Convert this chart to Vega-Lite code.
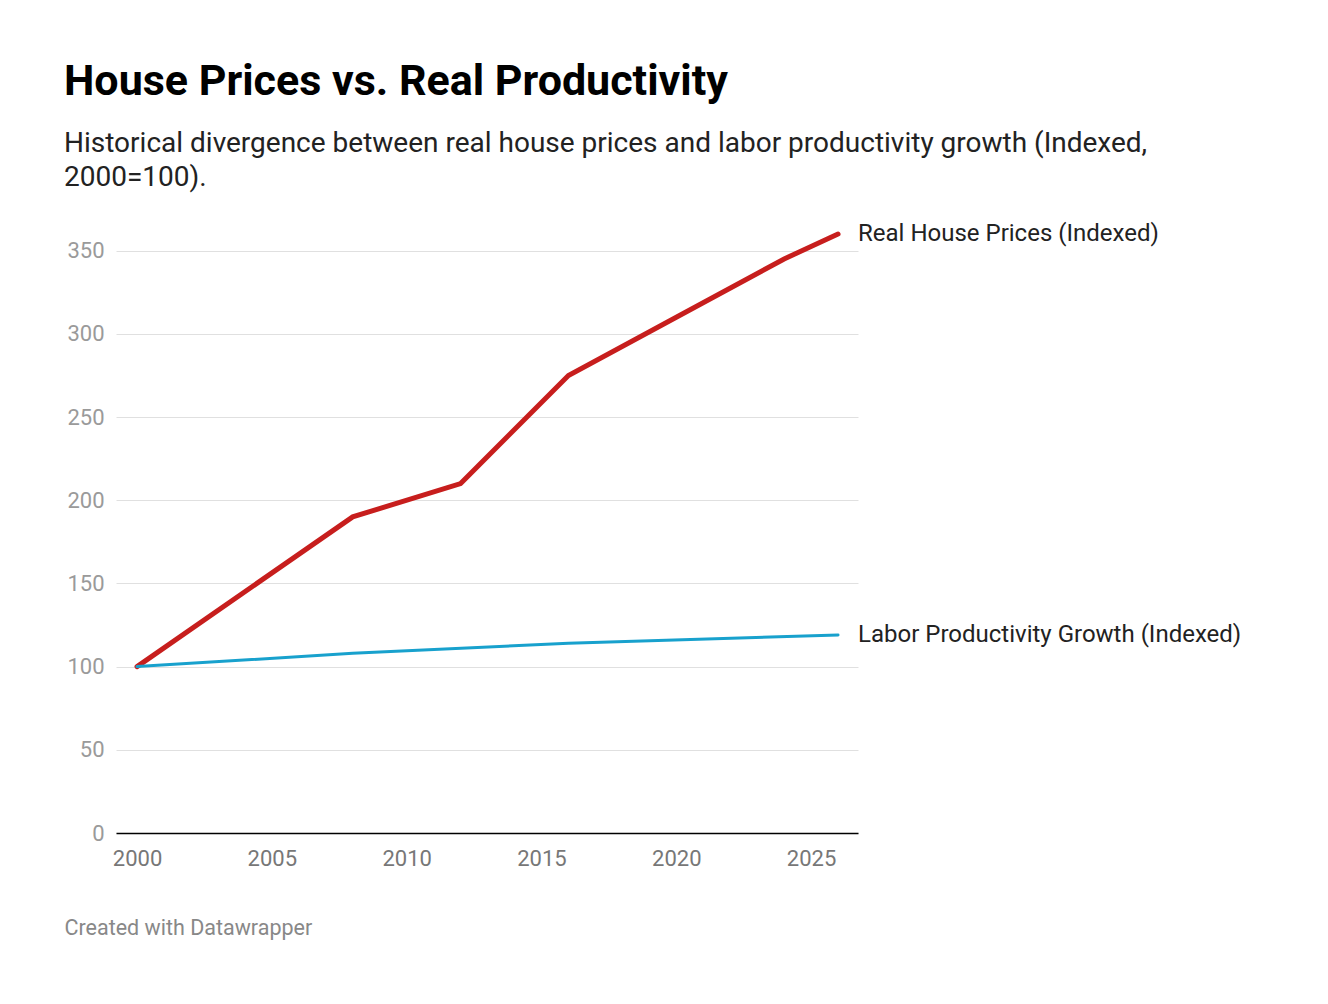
{
  "$schema": "https://vega.github.io/schema/vega-lite/v6.json",
  "autosize": "none",
  "width": 742,
  "height": 599,
  "padding": {"left": 116, "top": 234, "right": 470, "bottom": 171},
  "background": "white",
  "config": {"font": "Roboto", "view": {"stroke": null}},
  "title": {
    "text": "House Prices vs. Real Productivity",
    "subtitle": ["Historical divergence between real house prices and labor productivity growth (Indexed,", "2000=100)."],
    "anchor": "start",
    "frame": "group",
    "dx": -52,
    "offset": 30,
    "fontSize": 43,
    "fontWeight": "bold",
    "color": "#000000",
    "subtitleFontSize": 28,
    "subtitleColor": "#222222",
    "subtitlePadding": 26,
    "subtitleLineHeight": 34
  },
  "data": {
    "values": [
      {"year": 2000, "series": "Real House Prices (Indexed)", "value": 100},
      {"year": 2008, "series": "Real House Prices (Indexed)", "value": 190},
      {"year": 2012, "series": "Real House Prices (Indexed)", "value": 210},
      {"year": 2016, "series": "Real House Prices (Indexed)", "value": 275},
      {"year": 2020, "series": "Real House Prices (Indexed)", "value": 310},
      {"year": 2024, "series": "Real House Prices (Indexed)", "value": 345},
      {"year": 2026, "series": "Real House Prices (Indexed)", "value": 360},
      {"year": 2000, "series": "Labor Productivity Growth (Indexed)", "value": 100},
      {"year": 2008, "series": "Labor Productivity Growth (Indexed)", "value": 108},
      {"year": 2016, "series": "Labor Productivity Growth (Indexed)", "value": 114},
      {"year": 2026, "series": "Labor Productivity Growth (Indexed)", "value": 119}
    ]
  },
  "encoding": {
    "x": {
      "field": "year",
      "type": "quantitative",
      "scale": {"domain": [1999.22, 2026.74], "nice": false, "zero": false},
      "axis": {
        "values": [2000, 2005, 2010, 2015, 2020, 2025],
        "format": "d",
        "grid": false,
        "domainColor": "#000000",
        "domainWidth": 1.5,
        "ticks": false,
        "labelFontSize": 22,
        "labelColor": "#777777",
        "labelPadding": 15,
        "title": "Created with Datawrapper",
        "titleFontSize": 21.5,
        "titleFontWeight": "normal",
        "titleColor": "#888888",
        "titleAnchor": "start",
        "titleAlign": "left",
        "titleBaseline": "alphabetic",
        "titleX": -52,
        "titleY": 101
      }
    },
    "y": {
      "field": "value",
      "type": "quantitative",
      "scale": {"domain": [0, 360], "nice": false},
      "axis": {
        "values": [0, 50, 100, 150, 200, 250, 300, 350],
        "title": null,
        "domain": false,
        "ticks": false,
        "gridColor": "#e0e0e0",
        "labelFontSize": 22,
        "labelColor": "#9a9a9a",
        "labelPadding": 12
      }
    },
    "color": {
      "field": "series",
      "type": "nominal",
      "scale": {"domain": ["Real House Prices (Indexed)", "Labor Productivity Growth (Indexed)"], "range": ["#c71e1d", "#18a1cd"]},
      "legend": null
    }
  },
  "layer": [
    {
      "mark": {"type": "line", "strokeCap": "round"},
      "encoding": {
        "strokeWidth": {
          "field": "series",
          "type": "nominal",
          "scale": {"domain": ["Real House Prices (Indexed)", "Labor Productivity Growth (Indexed)"], "range": [5, 3]},
          "legend": null
        }
      }
    },
    {
      "transform": [{"filter": "datum.year == 2026"}],
      "mark": {"type": "text", "align": "left", "dx": 20, "fontSize": 24, "color": "#222222"},
      "encoding": {"text": {"field": "series"}, "color": {"value": "#222222"}}
    }
  ]
}
